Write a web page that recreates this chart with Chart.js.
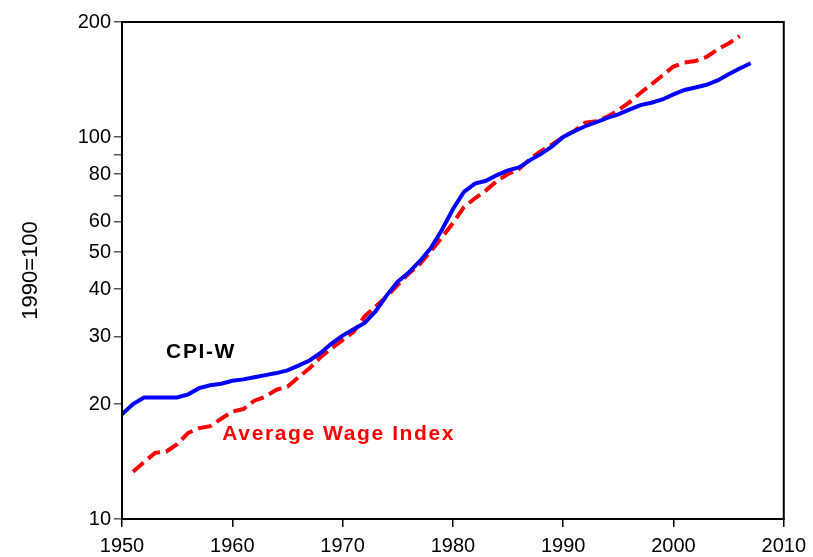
<!DOCTYPE html>
<html lang="en">
<head>
  <meta charset="UTF-8">
  <title>CPI-W and Average Wage Index</title>
  <style>
    body {
      margin: 0;
      background-color: #fff;
    }
    canvas {
      display: block;
    }
  </style>
  <script src="https://cdn.jsdelivr.net/npm/chart.js"></script>
</head>
<body>
  <canvas id="chart" width="813" height="557"></canvas>

  <script>
    // CPI-W, 1950-2007 (1990=100)
    const cpiYears = [
      1950, 1951, 1952, 1953, 1954, 1955, 1956, 1957, 1958, 1959,
      1960, 1961, 1962, 1963, 1964, 1965, 1966, 1967, 1968, 1969,
      1970, 1971, 1972, 1973, 1974, 1975, 1976, 1977, 1978, 1979,
      1980, 1981, 1982, 1983, 1984, 1985, 1986, 1987, 1988, 1989,
      1990, 1991, 1992, 1993, 1994, 1995, 1996, 1997, 1998, 1999,
      2000, 2001, 2002, 2003, 2004, 2005, 2006, 2007
    ];
    const cpiValues = [
      18.8, 20.0, 20.8, 20.8, 20.8, 20.8, 21.2, 22.0, 22.4, 22.6,
      23.0, 23.2, 23.5, 23.8, 24.1, 24.5, 25.2, 26.0, 27.2, 28.8,
      30.2, 31.4, 32.6, 35.0, 38.5, 41.8, 44.2, 47.3, 51.2, 57.1,
      64.7, 71.8, 75.5, 76.8, 79.5, 81.8, 83.3, 87.0, 90.3, 94.5,
      100.0, 103.5, 106.7, 109.3, 112.2, 114.6, 117.9, 121.2, 122.9, 125.4,
      129.3, 132.8, 134.8, 137.0, 140.6, 146.0, 151.1, 156.0
    ];

    // Average Wage Index, 1951-2006 (1990=100)
    const awiYears = [
      1951, 1952, 1953, 1954, 1955, 1956, 1957, 1958, 1959,
      1960, 1961, 1962, 1963, 1964, 1965, 1966, 1967, 1968, 1969,
      1970, 1971, 1972, 1973, 1974, 1975, 1976, 1977, 1978, 1979,
      1980, 1981, 1982, 1983, 1984, 1985, 1986, 1987, 1988, 1989,
      1990, 1991, 1992, 1993, 1994, 1995, 1996, 1997, 1998, 1999,
      2000, 2001, 2002, 2003, 2004, 2005, 2006
    ];
    const awiValues = [
      13.3, 14.1, 14.9, 15.0, 15.7, 16.8, 17.3, 17.5, 18.3,
      19.1, 19.4, 20.4, 20.9, 21.8, 22.2, 23.5, 24.8, 26.5, 28.0,
      29.4, 30.9, 33.9, 36.0, 38.2, 41.0, 43.9, 46.5, 50.2, 54.6,
      59.5, 65.5, 69.1, 72.5, 76.7, 80.0, 82.4, 87.6, 91.9, 95.6,
      100.0, 103.7, 109.1, 110.0, 113.0, 117.5, 123.2, 130.4, 137.3, 144.9,
      152.9, 156.6, 158.1, 162.0, 169.5, 175.7, 183.8
    ];

    const yTickValues = [10, 20, 30, 40, 50, 60, 70, 80, 90, 100, 200];
    const yTickLabels = ['10', '20', '30', '40', '50', '60', '', '80', '', '100', '200'];

    // text labels placed in data space
    const seriesLabels = [
      { text: 'CPI-W', x: 1954.0, y: 27.3, color: '#000' },
      { text: 'Average Wage Index', x: 1959.1, y: 16.66, color: '#ff0000' }
    ];

    const toPoints = (xs, ys) => xs.map((x, i) => ({ x: x, y: ys[i] }));

    // box round the plot, and the in-plot labels
    const framePlugin = {
      id: 'frame',
      afterDatasetsDraw(chart) {
        const { ctx, scales } = chart;
        ctx.save();
        ctx.font = 'bold 21px Arial, "Liberation Sans", sans-serif';
        ctx.letterSpacing = '1.6px';
        ctx.textAlign = 'left';
        ctx.textBaseline = 'middle';
        seriesLabels.forEach(l => {
          ctx.fillStyle = l.color;
          ctx.fillText(l.text, scales.x.getPixelForValue(l.x), scales.y.getPixelForValue(l.y));
        });
        ctx.restore();
      },
      afterDraw(chart) {
        const { ctx, chartArea: a } = chart;
        ctx.save();
        ctx.strokeStyle = '#000';
        ctx.lineWidth = 2;
        ctx.strokeRect(a.left, a.top, a.right - a.left, a.bottom - a.top);
        ctx.restore();
      }
    };

    const ctx = document.getElementById('chart').getContext('2d');
    const chart = new Chart(ctx, {
      type: 'line',
      data: {
        datasets: [
          {
            label: 'CPI-W',
            data: toPoints(cpiYears, cpiValues),
            borderColor: '#0000ff',
            borderWidth: 4,
            pointRadius: 0,
            tension: 0,
            fill: false
          },
          {
            label: 'Average Wage Index',
            data: toPoints(awiYears, awiValues),
            borderColor: '#ff0000',
            borderWidth: 4,
            borderDash: [14, 6],
            pointRadius: 0,
            tension: 0,
            fill: false
          }
        ]
      },
      options: {
        responsive: false,
        animation: false,
        devicePixelRatio: 1,
        layout: {
          padding: { top: 22, right: 27, left: 0, bottom: 0 }
        },
        plugins: {
          legend: { display: false },
          tooltip: { enabled: false }
        },
        scales: {
          x: {
            type: 'linear',
            min: 1950,
            max: 2010,
            ticks: {
              stepSize: 10,
              color: '#000',
              font: { family: 'Arial, "Liberation Sans", sans-serif', size: 20 },
              padding: 7,
              maxRotation: 0,
              callback: v => String(v)
            },
            grid: {
              drawOnChartArea: false,
              drawTicks: true,
              tickLength: 8,
              color: '#000',
              lineWidth: 1.5
            },
            border: { display: true, color: '#000', width: 2 },
            afterFit(scale) { scale.height = 38; }
          },
          y: {
            type: 'logarithmic',
            min: 10,
            max: 200,
            afterBuildTicks(scale) {
              scale.ticks = yTickValues.map(v => ({ value: v }));
            },
            ticks: {
              color: '#000',
              font: { family: 'Arial, "Liberation Sans", sans-serif', size: 20 },
              padding: 3,
              callback: (v, i) => yTickLabels[i]
            },
            grid: {
              drawOnChartArea: false,
              drawTicks: true,
              tickLength: 8,
              color: '#555',
              lineWidth: 1.5
            },
            border: { display: true, color: '#000', width: 2 },
            title: {
              display: true,
              text: '1990=100',
              color: '#000',
              font: { family: 'Arial, "Liberation Sans", sans-serif', size: 22 },
              padding: { top: 18, bottom: 0 }
            },
            afterFit(scale) { scale.width = 122; }
          }
        }
      },
      plugins: [framePlugin]
    });
  </script>
</body>
</html>
